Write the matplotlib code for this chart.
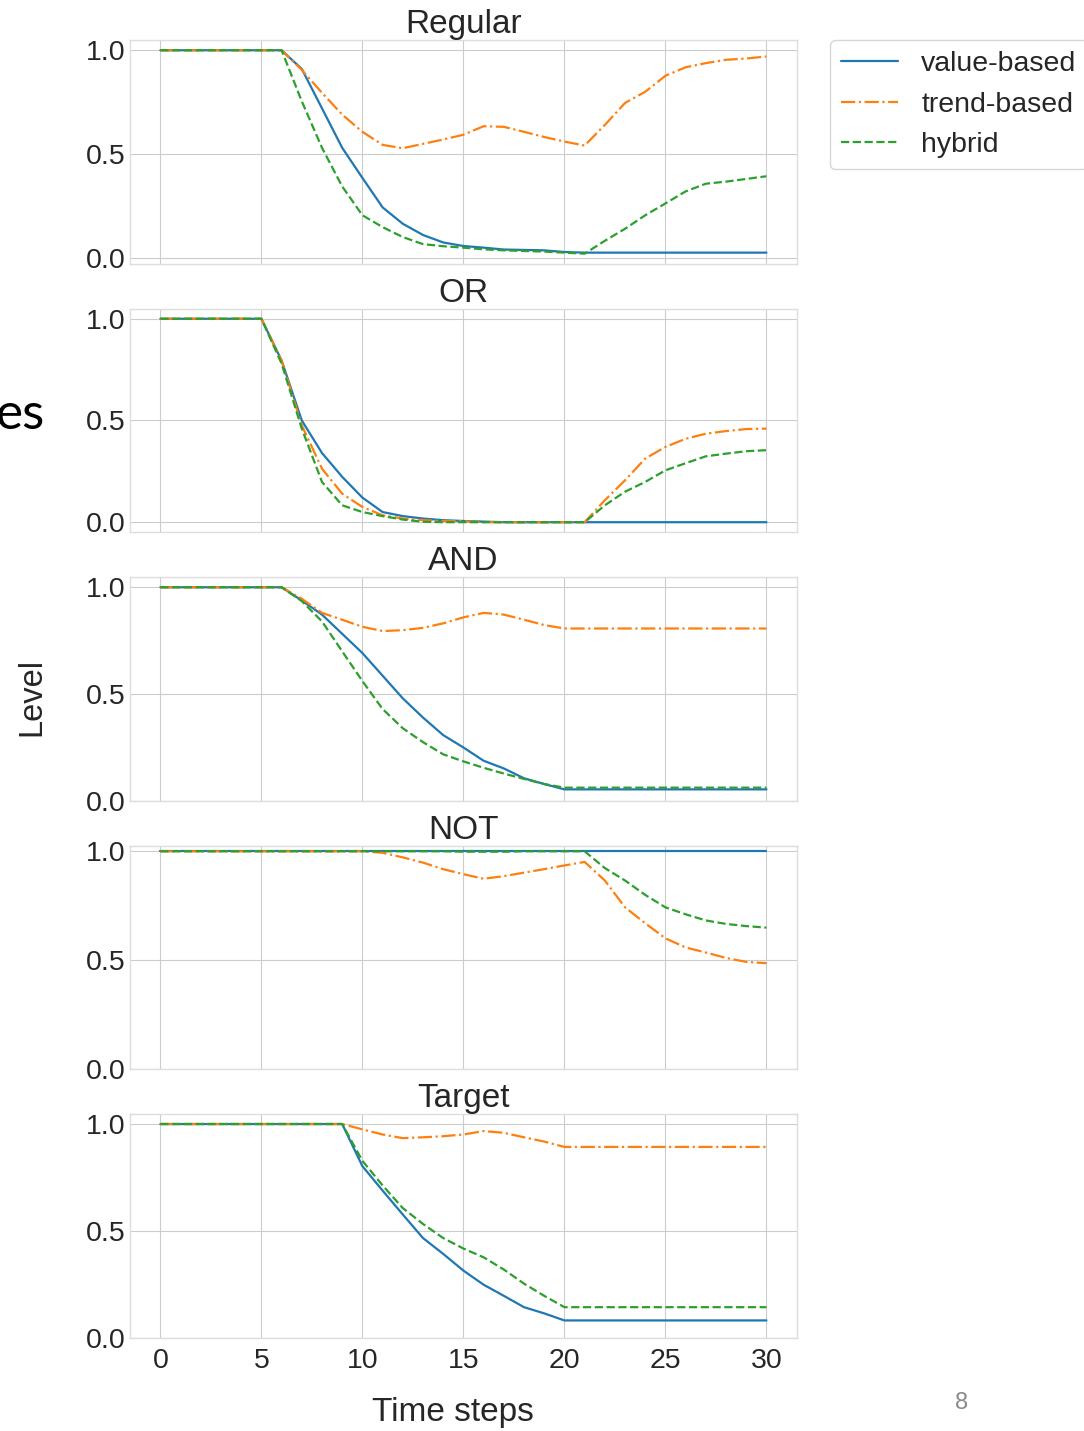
import matplotlib
matplotlib.use('Agg')
import numpy as np
from matplotlib import pyplot as plt

steps = list(range(31))
panel_titles = ['Regular', 'OR', 'AND', 'NOT', 'Target']
series_labels = ['value-based', 'trend-based', 'hybrid']

regular_value = [1, 1, 1, 1, 1, 1, 1, 0.91, 0.72, 0.53, 0.385, 0.243, 0.164, 0.11, 0.074, 0.057,
                 0.049, 0.04, 0.038, 0.036, 0.028, 0.025, 0.025, 0.025, 0.025, 0.025, 0.025, 0.025,
                 0.025, 0.025, 0.025]
regular_trend = [1, 1, 1, 1, 1, 1, 1, 0.905, 0.795, 0.69, 0.607, 0.544, 0.528, 0.549, 0.57, 0.593,
                 0.634, 0.631, 0.607, 0.582, 0.56, 0.541, 0.64, 0.746, 0.80, 0.877, 0.918, 0.938,
                 0.954, 0.96, 0.97]
regular_hybrid = [1, 1, 1, 1, 1, 1, 1, 0.754, 0.53, 0.344, 0.205, 0.148, 0.10, 0.066, 0.056, 0.049,
                  0.041, 0.036, 0.033, 0.03, 0.025, 0.02, 0.082, 0.14, 0.205, 0.262, 0.32, 0.357,
                  0.367, 0.38, 0.393]

or_value = [1, 1, 1, 1, 1, 1, 0.795, 0.50, 0.34, 0.223, 0.121, 0.05, 0.03, 0.018, 0.01, 0.006,
            0.003, 0, 0, 0, 0, 0, 0, 0, 0, 0, 0, 0, 0, 0, 0]
or_trend = [1, 1, 1, 1, 1, 1, 0.795, 0.476, 0.263, 0.14, 0.075, 0.034, 0.018, 0.01, 0.006, 0.005,
            0, 0, 0, 0, 0, 0, 0.108, 0.206, 0.313, 0.37, 0.41, 0.435, 0.448, 0.458, 0.46]
or_hybrid = [1, 1, 1, 1, 1, 1, 0.78, 0.46, 0.198, 0.083, 0.05, 0.03, 0.013, 0.002, 0, 0,
             0, 0, 0, 0, 0, 0, 0.083, 0.15, 0.198, 0.255, 0.29, 0.324, 0.337, 0.349, 0.354]

and_value = [1, 1, 1, 1, 1, 1, 1, 0.938, 0.872, 0.782, 0.692, 0.586, 0.48, 0.39, 0.308, 0.25,
             0.188, 0.152, 0.106, 0.079, 0.054, 0.054, 0.054, 0.054, 0.054, 0.054, 0.054, 0.054,
             0.054, 0.054, 0.054]
and_trend = [1, 1, 1, 1, 1, 1, 1, 0.946, 0.88, 0.848, 0.815, 0.795, 0.799, 0.81, 0.831, 0.859,
             0.88, 0.872, 0.848, 0.823, 0.807, 0.807, 0.807, 0.807, 0.807, 0.807, 0.807, 0.807,
             0.807, 0.807, 0.807]
and_hybrid = [1, 1, 1, 1, 1, 1, 1, 0.935, 0.84, 0.70, 0.561, 0.43, 0.34, 0.275, 0.218, 0.185,
              0.155, 0.128, 0.103, 0.079, 0.062, 0.062, 0.062, 0.062, 0.062, 0.062, 0.062, 0.062,
              0.062, 0.062, 0.062]

not_value = [1] * 31
not_trend = [1, 1, 1, 1, 1, 1, 1, 1, 1, 1, 1, 0.993, 0.972, 0.948, 0.918, 0.895,
             0.874, 0.886, 0.902, 0.918, 0.935, 0.951, 0.866, 0.743, 0.67, 0.601, 0.559, 0.536,
             0.511, 0.493, 0.487]
not_hybrid = [1, 1, 1, 1, 1, 1, 1, 1, 1, 1, 1, 1, 1, 1, 1, 0.998,
              0.998, 0.998, 1, 1, 1, 1, 0.923, 0.866, 0.80, 0.743, 0.711, 0.683,
              0.667, 0.657, 0.65]

target_value = [1, 1, 1, 1, 1, 1, 1, 1, 1, 1, 0.803, 0.689, 0.577, 0.467, 0.393, 0.315,
                0.249, 0.197, 0.144, 0.115, 0.082, 0.082, 0.082, 0.082, 0.082, 0.082, 0.082, 0.082,
                0.082, 0.082, 0.082]
target_trend = [1, 1, 1, 1, 1, 1, 1, 1, 1, 1, 0.975, 0.951, 0.934, 0.938, 0.943, 0.951,
                0.967, 0.959, 0.938, 0.918, 0.893, 0.893, 0.893, 0.893, 0.893, 0.893, 0.893, 0.893,
                0.893, 0.893, 0.893]
target_hybrid = [1, 1, 1, 1, 1, 1, 1, 1, 1, 1, 0.828, 0.713, 0.607, 0.533, 0.467, 0.418,
                 0.377, 0.32, 0.254, 0.197, 0.144, 0.144, 0.144, 0.144, 0.144, 0.144, 0.144, 0.144,
                 0.144, 0.144, 0.144]


def plot_levels():
    plt.style.use('seaborn-v0_8-whitegrid')
    plt.rcParams['font.family'] = ['Liberation Sans', 'DejaVu Sans']
    plt.rcParams['text.color'] = '#262626'
    plt.rcParams['xtick.color'] = '#262626'
    plt.rcParams['ytick.color'] = '#262626'

    panels = [
        (regular_value, regular_trend, regular_hybrid),
        (or_value, or_trend, or_hybrid),
        (and_value, and_trend, and_hybrid),
        (not_value, not_trend, not_hybrid),
        (target_value, target_trend, target_hybrid),
    ]
    styles = [('tab:blue', '-'), ('tab:orange', '-.'), ('tab:green', '--')]

    fig, axes = plt.subplots(5, 1, sharex=True, figsize=(10.84, 14.31), dpi=100)
    fig.subplots_adjust(left=0.12, right=0.735, top=0.972, bottom=0.065, hspace=0.2)

    for ax, title, panel in zip(axes, panel_titles, panels):
        for values, (color, ls), label in zip(panel, styles, series_labels):
            ax.plot(steps, values, color=color, linestyle=ls, linewidth=1.6, label=label)
        ax.set_title(title, fontsize=24, pad=3)
        ax.set_yticks([0.0, 0.5, 1.0])
        ax.tick_params(labelsize=20.5)
        ax.tick_params(axis='x', pad=7)
        for spine in ax.spines.values():
            spine.set_color('#dddddd')
    axes[-1].set_xticks([0, 5, 10, 15, 20, 25, 30])

    axes[0].legend(loc='upper left', bbox_to_anchor=(1.05, 1.0), borderaxespad=0,
                   fontsize=20.5, frameon=True, handlelength=2.0, handletextpad=0.8,
                   borderpad=0.4, labelspacing=0.5)

    fig.text(453 / 1084, 1 - 1413 / 1431, 'Time steps', fontsize=24, ha='center', va='center')
    fig.text(32 / 1084, 1 - 697 / 1431, 'Level', fontsize=23.5, rotation=90,
             ha='center', va='center')
    # leftovers of the slide around the figure
    fig.text(-0.004, 1 - 415 / 1431, 'es', fontsize=37, family=['Lato', 'DejaVu Sans'],
             color='black', ha='left', va='center')
    fig.text(962 / 1084, 1 - 1403 / 1431, '8', fontsize=17, color='#8a8a8a',
             ha='center', va='center')

    fig.savefig('out.png', dpi=100)


if __name__ == '__main__':
    plot_levels()
